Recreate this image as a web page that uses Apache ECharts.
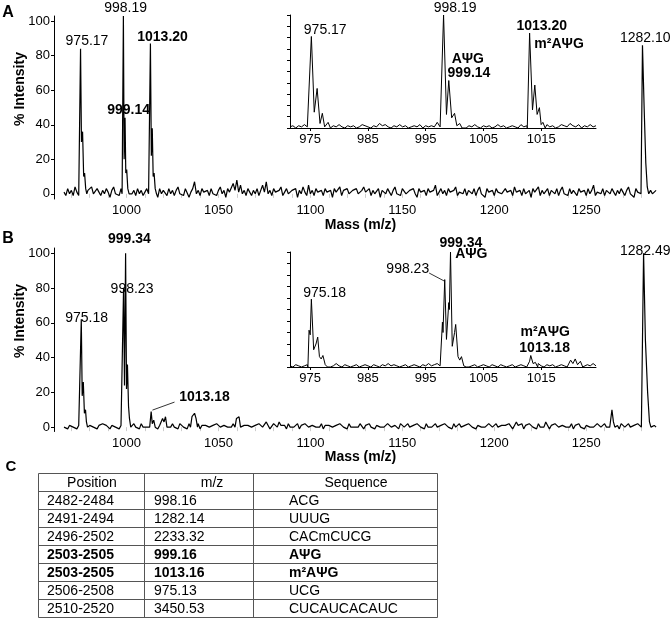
<!DOCTYPE html>
<html>
<head>
<meta charset="utf-8">
<script src="https://cdn.jsdelivr.net/npm/echarts@6/dist/echarts.min.js"></script>
<style>
  html, body { margin: 0; padding: 0; background: #fff; }
  #chart { width: 672px; height: 619px; }
</style>
</head>
<body>
<div id="chart"></div>
<script>
// ---- data ----
// main spectra: noise sampled every 1 m/z from 966, peaks as [m/z, %]
const mainNoiseStart = 966;
const mainNoiseStep = 1;
const noiseA = [
  1,-1,3,0,2,-1,4,1,-1,2,0,3,-1,2,1,4,0,-1,3,1,
  -1,2,0,3,1,-2,2,4,0,1,-1,3,0,2,-1,3,1,0,2,-1,
  3,0,2,-1,1,3,0,4,-1,2,1,-2,3,0,2,1,-1,3,0,2,
  -1,2,4,0,1,-1,3,2,-2,1,3,7,0,2,-1,3,1,0,2,-1,
  3,0,1,-1,2,4,0,2,-2,3,1,0,6,2,8,1,5,0,2,-1,
  3,1,-1,2,0,3,-1,2,5,1,7,0,2,-1,3,1,0,2,4,-1,
  1,3,0,-1,2,1,3,-2,2,0,4,1,-1,5,0,2,-1,3,1,0,
  2,-1,3,1,0,2,-2,3,1,0,4,-1,2,1,3,0,-1,2,1,3,
  0,-1,2,4,1,0,3,-1,2,0,1,3,-2,2,1,0,3,1,-1,2,
  4,0,1,-1,3,2,0,-1,2,1,3,0,-2,3,1,0,2,-1,3,1,
  0,2,5,-1,1,3,0,2,-1,3,1,0,2,4,-1,1,2,0,3,-1,
  2,1,0,3,-1,2,4,0,1,-2,3,1,0,2,-1,3,1,2,0,-1,
  3,1,0,2,-1,4,1,0,2,-1,3,0,1,2,-2,3,1,0,4,-1,
  2,0,1,3,-1,2,1,0,3,-1,2,4,0,1,-1,3,0,2,1,-1,
  3,1,0,2,-1,3,0,2,5,-1,1,2,0,3,-1,2,1,0,3,1,
  -1,2,0,3,1,-1,2,4,0,1,-2,3,1,0,2,1,0,3,-1,2,
  0,1,2
];
const peaksA = [
  [[974.3,0],[975.0,84],[975.5,30],[976.1,36],[976.7,10],[977.2,12],[977.8,3],[978.4,0]],
  [[997.6,0],[998.3,103],[998.7,20],[999.2,44],[999.6,12],[1000.1,14],[1000.7,3],[1001.4,0]],
  [[1012.3,0],[1013.0,87],[1013.5,22],[1014.0,38],[1014.5,10],[1015.0,12],[1015.6,3],[1016.3,0]],
  [[1279.8,0],[1280.6,86],[1281.5,50],[1282.4,18],[1283.2,4],[1284.0,0]]
];
const noiseB = [
  0,1,-1,1,2,0,1,-1,1,0,2,1,0,-1,1,2,0,1,-1,1,
  0,2,3,1,0,-1,1,2,0,1,-1,1,0,2,1,0,1,-1,2,0,
  1,-1,2,0,1,0,-1,1,2,0,1,-1,1,0,2,1,-1,1,0,2,
  0,1,-1,2,1,0,1,-1,2,0,1,0,1,2,-1,1,0,1,2,0,
  -1,1,0,2,1,0,-1,1,2,0,1,0,2,1,0,1,2,-1,1,0,
  1,2,0,-1,1,0,2,1,0,1,3,1,-1,0,2,1,0,3,1,0,
  1,-1,2,0,1,0,1,2,-1,1,0,2,1,0,-1,1,2,0,1,0,
  2,-1,1,0,1,2,0,-1,1,0,2,1,0,1,-1,2,0,1,0,1,
  0,2,1,-1,1,0,2,0,1,-1,1,2,0,1,0,-1,2,1,0,1,
  1,0,-1,2,1,0,1,2,0,-1,1,0,2,1,0,1,-1,2,0,1,
  0,1,2,0,-1,1,0,2,1,0,1,-1,2,0,1,2,0,-1,1,0,
  2,3,0,1,-1,1,2,0,1,0,-1,2,1,0,1,2,0,-1,1,0,
  1,0,2,1,-1,1,3,1,0,2,-1,1,0,2,1,0,1,-1,2,0,
  1,0,3,1,-1,1,0,2,1,0,-1,1,2,0,1,0,2,-1,1,0,
  2,0,1,-1,1,2,0,1,0,-1,2,1,0,1,2,0,-1,1,0,1,
  0,1,-1,2,1,0,1,2,0,-1,1,0,2,1,0,1,0,2,-1,1,
  0,1,0
];
const peaksB = [
  [[974.7,0],[975.4,62],[975.9,18],[976.5,26],[977.1,8],[977.7,10],[978.2,3],[978.8,0]],
  [[997.7,0],[998.4,80],[998.9,24],[999.5,100],[1000.0,22],[1000.5,36],[1001.1,12],[1001.6,5],[1002.3,0]],
  [[1012.6,0],[1013.4,9],[1014.0,2],[1014.8,4],[1015.6,0]],
  [[1018.8,0],[1019.6,5],[1020.4,3],[1021.2,6],[1022.0,0]],
  [[1034.8,0],[1035.6,6],[1036.4,5],[1037.0,8],[1037.8,5],[1038.6,0]],
  [[1059.0,0],[1059.8,5],[1060.6,4],[1061.2,6],[1062.0,0]],
  [[1262.8,0],[1264.0,10],[1264.8,3],[1265.6,0]],
  [[1280.4,0],[1281.2,100],[1282.2,50],[1283.4,20],[1284.4,3],[1285.2,0]]
];

// insets: noise every 0.5 m/z from 971.5
const insetNoiseStart = 971.5;
const insetNoiseStep = 0.5;
const insetNoiseA = [
  1,2,0,2,1,3,1,0,1,2, 0,1,2,1,0,2,1,3,1,0,
  2,1,2,0,1,3,2,1,0,2, 1,4,2,3,1,0,2,1,3,1,
  2,0,1,2,1,3,0,2,1,2, 1,5,1,2,1,3,1,2,0,2,
  1,0,2,1,3,1,0,2,1,2, 0,1,3,1,2,0,1,2,1,0,
  3,1,2,1,4,2,1,0,2,3, 1,2,0,1,3,2,1,4,2,1,
  3,0,2,1,3,1,2
];
const insetPeaksA = [
  [[974.8,0],[975.2,81],[975.7,14],[976.2,35],[976.7,4],[977.1,13],[977.5,1],[978.1,5],[978.5,0]],
  [[997.7,0],[998.1,100],[998.6,12],[999.0,42],[999.5,9],[1000.0,13],[1000.4,2],[1000.9,4],[1001.3,0]],
  [[1012.6,0],[1013.0,84],[1013.5,16],[1013.9,38],[1014.3,12],[1014.7,18],[1015.0,3],[1015.3,5],[1015.7,0]]
];
const insetNoiseB = [
  1,0,2,1,0,1,2,0,1,2, 1,0,2,1,0,1,3,1,0,2,
  1,0,1,2,0,1,2,1,0,2, 1,0,2,1,3,1,2,1,0,1,
  2,0,1,2,1,0,2,1,3,1, 2,3,1,0,2,1,0,1,2,0,
  1,2,0,1,2,0,1,2,1,0, 2,1,0,2,1,0,1,2,0,1,
  2,1,0,1,2,0,3,1,0,2, 1,2,0,1,2,1,0,2,1,3,
  1,2,0,2,1,3,1
];
const insetPeaksB = [
  [[974.6,0],[974.8,32],[975.0,28],[975.2,59],[975.6,15],[976.0,20],[976.3,26],[976.6,9],[976.9,7],[977.2,10],[977.6,2],[978.0,0]],
  [[997.6,0],[997.9,39],[998.0,30],[998.3,76],[998.6,24],[999.0,56],[999.1,50],[999.3,100],[999.6,18],[1000.0,30],[1000.2,37],[1000.6,9],[1000.9,6],[1001.2,9],[1001.6,1],[1002.0,0]],
  [[1012.6,0],[1013.0,5],[1013.2,10],[1013.6,3],[1014.0,4],[1014.4,0]],
  [[1019.6,0],[1020.1,6],[1020.5,3],[1020.9,7],[1021.3,2],[1021.8,5],[1022.2,0]]
];

// axis ticks and labels
const mainXLabels = [1000, 1050, 1100, 1150, 1200, 1250];
const mainXTicks = [970,980,990,1000,1010,1020,1030,1040,1050,1060,1070,1080,1090,1100,1110,1120,1130,1140,1150,1160,1170,1180,1190,1200,1210,1220,1230,1240,1250,1260,1270,1280];
const mainYLabels = [0, 20, 40, 60, 80, 100];
const insetXLabels = [975, 985, 995, 1005, 1015];
const insetYTicks = [0,10,20,30,40,50,60,70,80,90,100];

// peak labels: [m/z, %, text]
const labelsA = [[978.5, 88.4, '975.17'], [999.5, 107.5, '998.19'], [1282.1, 90.2, '1282.10']];
const boldLabelsA = [[1019.6, 90.5, '1013.20'], [1001.1, 48.6, '999.14']];
const insetLabelsA = [[977.6, 86.3, '975.17'], [1000.1, 106, '998.19']];
const insetBoldLabelsA = [[1002.3, 61, 'AΨG'], [1002.5, 48.7, '999.14'], [1015.1, 90.3, '1013.20'], [1018.1, 74.3, 'm²AΨG']];
const labelsB = [[1003.0, 79.3, '998.23'], [978.3, 62.6, '975.18'], [1282.1, 101.4, '1282.49']];
const boldLabelsB = [[1001.6, 108, '999.34'], [1042.4, 17, '1013.18']];
const leaderB = [[1014.1, 9.8], [1026.1, 14.4]];
const insetLabelsB = [[977.5, 63.9, '975.18'], [991.9, 85.2, '998.23']];
const insetBoldLabelsB = [[1001.1, 107.4, '999.34'], [1002.9, 97.8, 'AΨG'], [1015.7, 30.4, 'm²AΨG'], [1015.6, 16.5, '1013.18']];
const insetLeaderB = [[995.6, 81.7], [998.2, 74.8]];

// table C
const tableHeaders = ['Position', 'm/z', 'Sequence'];
const tablePositions = ['2482-2484', '2491-2494', '2496-2502', '2503-2505', '2503-2505', '2506-2508', '2510-2520'];
const tableMz = ['998.16', '1282.14', '2233.32', '999.16', '1013.16', '975.13', '3450.53'];
const tableSeq = ['ACG', 'UUUG', 'CACmCUCG', 'AΨG', 'm²AΨG', 'UCG', 'CUCAUCACAUC'];
const boldRows = [3, 4];

// ---- helpers ----
const FONT = '"Liberation Sans", Arial, Helvetica, sans-serif';

function buildSpectrum(start, step, noise, peaks) {
  const ranges = peaks.map(p => [p[0][0], p[p.length - 1][0]]);
  const pts = [];
  noise.forEach((v, i) => {
    const m = start + i * step;
    if (!ranges.some(r => m >= r[0] && m <= r[1])) pts.push([m, v]);
  });
  peaks.forEach(p => p.forEach(q => pts.push(q)));
  pts.sort((a, b) => a[0] - b[0]);
  return pts;
}

function spectrumSeries(idx, data, width) {
  return {
    type: 'line', xAxisIndex: idx, yAxisIndex: idx, data: data,
    symbol: 'none', silent: true, animation: false,
    lineStyle: { color: '#000', width: width }
  };
}

function labelSeries(idx, list, bold) {
  return {
    type: 'scatter', xAxisIndex: idx, yAxisIndex: idx, clip: false,
    symbolSize: 1, silent: true, animation: false,
    itemStyle: { color: 'rgba(0,0,0,0)', opacity: 1 },
    data: list.map(l => ({ value: [l[0], l[1]], name: l[2] })),
    label: {
      show: true, position: 'inside', formatter: '{b}', color: '#000', opacity: 1,
      textBorderWidth: 0,
      fontFamily: FONT, fontSize: 14, fontWeight: bold ? 'bold' : 'normal'
    }
  };
}

function leaderSeries(idx, pts) {
  return {
    type: 'line', xAxisIndex: idx, yAxisIndex: idx, data: pts, symbol: 'none',
    silent: true, animation: false, clip: false,
    lineStyle: { color: '#000', width: 0.8 }
  };
}

const plainNum = v => String(v);

function mainX(idx, nameGap) {
  return {
    gridIndex: idx, type: 'value', min: 966, max: 1288.5,
    name: 'Mass (m/z)', nameLocation: 'middle', nameGap: nameGap,
    nameTextStyle: { fontFamily: FONT, fontSize: 14, fontWeight: 'bold', color: '#000' },
    axisLine: { show: false },
    axisTick: { show: true, customValues: mainXTicks, length: 4, lineStyle: { color: '#ccc' } },
    axisLabel: { customValues: mainXLabels, formatter: plainNum, fontFamily: FONT, fontSize: 13, color: '#000', margin: 5 },
    splitLine: { show: false }
  };
}

function mainY(idx, min) {
  return {
    gridIndex: idx, type: 'value', min: min, max: 103, offset: 10,
    axisLine: { show: true, lineStyle: { color: '#000', width: 1 } },
    axisTick: { show: true, customValues: mainYLabels, length: 3, lineStyle: { color: '#000' } },
    axisLabel: { customValues: mainYLabels, formatter: plainNum, fontFamily: FONT, fontSize: 13, color: '#000', margin: 4 },
    splitLine: { show: false }
  };
}

function insetX(idx) {
  return {
    gridIndex: idx, type: 'value', min: 971.5, max: 1024.5,
    axisLine: { show: true, lineStyle: { color: '#000', width: 1 } },
    axisTick: { show: true, customValues: insetXLabels, length: 3, lineStyle: { color: '#000' } },
    axisLabel: { customValues: insetXLabels, formatter: plainNum, fontFamily: FONT, fontSize: 13, color: '#000', margin: 5 },
    splitLine: { show: false }
  };
}

function insetY(idx) {
  return {
    gridIndex: idx, type: 'value', min: 0, max: 100,
    axisLine: { show: true, lineStyle: { color: '#000', width: 1 } },
    axisTick: { show: true, customValues: insetYTicks, length: 3, lineStyle: { color: '#000' } },
    axisLabel: { show: false },
    splitLine: { show: false }
  };
}

// ---- table as graphic ----
function buildTable() {
  const x0 = 38.5, x1 = 437.5, cols = [144.5, 253.5];
  const top = 473.5, rowH = 18, nRows = tablePositions.length + 1;
  const lineStyle = { stroke: '#555', lineWidth: 1 };
  const els = [];
  els.push({ type: 'rect', shape: { x: x0, y: top, width: x1 - x0, height: rowH * nRows }, style: Object.assign({ fill: 'none' }, lineStyle) });
  for (let k = 1; k < nRows; k++) {
    els.push({ type: 'line', shape: { x1: x0, y1: top + k * rowH, x2: x1, y2: top + k * rowH }, style: lineStyle });
  }
  cols.forEach(c => els.push({ type: 'line', shape: { x1: c, y1: top, x2: c, y2: top + rowH * nRows }, style: lineStyle }));
  const headX = [92, 212, 356];
  tableHeaders.forEach((h, i) => {
    els.push({ type: 'text', x: headX[i], y: top + rowH / 2 + 0.5,
      style: { text: h, font: '14px ' + FONT, fill: '#000', align: 'center', verticalAlign: 'middle', textAlign: 'center', textVerticalAlign: 'middle' } });
  });
  const colX = [47, 154, 289];
  tablePositions.forEach((p, r) => {
    const cells = [p, tableMz[r], tableSeq[r]];
    const w = boldRows.indexOf(r) >= 0 ? 'bold ' : '';
    cells.forEach((t, i) => {
      els.push({ type: 'text', x: colX[i], y: top + rowH * (r + 1) + rowH / 2 + 0.5,
        style: { text: t, font: w + '14px ' + FONT, fill: '#000', align: 'left', verticalAlign: 'middle', textAlign: 'left', textVerticalAlign: 'middle' } });
    });
  });
  return els;
}

function textEl(x, y, text, font, rot) {
  return { type: 'text', x: x, y: y, rotation: rot || 0,
    style: { text: text, font: font, fill: '#000', align: 'center', verticalAlign: 'middle', textAlign: 'center', textVerticalAlign: 'middle' } };
}

const chart = echarts.init(document.getElementById('chart'), null, { renderer: 'canvas' });
chart.setOption({
  animation: false,
  backgroundColor: '#fff',
  grid: [
    { left: 64, top: 16, width: 593, height: 183 },
    { left: 290, top: 15, width: 306, height: 113 },
    { left: 64, top: 248, width: 593, height: 183.5 },
    { left: 290, top: 252, width: 306, height: 115 }
  ],
  xAxis: [mainX(0, 17), insetX(1), mainX(2, 16), insetX(3)],
  yAxis: [mainY(0, -3), insetY(1), mainY(2, -2.5), insetY(3)],
  series: [
    spectrumSeries(0, buildSpectrum(mainNoiseStart, mainNoiseStep, noiseA, peaksA), 1.2),
    spectrumSeries(1, buildSpectrum(insetNoiseStart, insetNoiseStep, insetNoiseA, insetPeaksA), 1),
    spectrumSeries(2, buildSpectrum(mainNoiseStart, mainNoiseStep, noiseB, peaksB), 1.2),
    spectrumSeries(3, buildSpectrum(insetNoiseStart, insetNoiseStep, insetNoiseB, insetPeaksB), 1),
    labelSeries(0, labelsA, false), labelSeries(0, boldLabelsA, true),
    labelSeries(1, insetLabelsA, false), labelSeries(1, insetBoldLabelsA, true),
    labelSeries(2, labelsB, false), labelSeries(2, boldLabelsB, true),
    labelSeries(3, insetLabelsB, false), labelSeries(3, insetBoldLabelsB, true),
    leaderSeries(2, leaderB), leaderSeries(3, insetLeaderB)
  ],
  graphic: [
    textEl(8, 12.5, 'A', 'bold 16px ' + FONT),
    textEl(8, 239, 'B', 'bold 16px ' + FONT),
    textEl(11, 467, 'C', 'bold 15px ' + FONT),
    textEl(20, 89, '% Intensity', 'bold 14px ' + FONT, Math.PI / 2),
    textEl(20, 321, '% Intensity', 'bold 14px ' + FONT, Math.PI / 2)
  ].concat(buildTable())
});
</script>
</body>
</html>
